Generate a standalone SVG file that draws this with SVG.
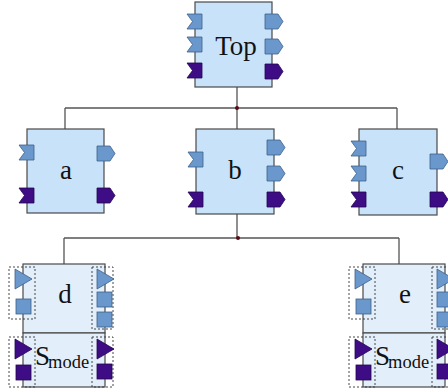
<svg xmlns="http://www.w3.org/2000/svg" xmlns:xlink="http://www.w3.org/1999/xlink" width="448" height="389" viewBox="0 0 448 389">
  <style>
    .box { fill: #c8e2fa; stroke: #4a4a4a; stroke-width: 1.2; }
    .sub { fill: #e2effb; stroke: #4a4a4a; stroke-width: 1.2; }
    .pb { fill: #6a98cc; stroke: #3d5f88; stroke-width: 0.8; }
    .pp { fill: #3e0c85; stroke: #22064f; stroke-width: 0.8; }
    .dash { fill: none; stroke: #333; stroke-width: 0.9; stroke-dasharray: 2 2; }
    .wire { fill: none; stroke: #555; stroke-width: 1.3; }
    .dot { fill: #5a0a14; }
    .lbl { font-family: "Liberation Serif", "Times New Roman", serif; font-size: 27px; fill: #111; }
    .lbl-s { font-family: "Liberation Serif", "Times New Roman", serif; font-size: 18.5px; fill: #111; }
  </style>
  <defs>
    <!-- notched input port -->
    <polygon id="in" points="0,0 15,0 15,15 0,15 5.5,7.5"/>
    <!-- arrow-shaped output port -->
    <polygon id="out" points="0,0 13,0 18,7.5 13,15 0,15"/>
    <!-- triangular data port -->
    <polygon id="tri" points="0,0 17,10 0,20"/>
    <rect id="sq" width="15" height="15"/>
  </defs>

  <g id="connectors">
    <path class="wire" d="M237,87 V108 M65,108 H397 M65,108 V129 M237,108 V129 M397,108 V129"/>
    <circle class="dot" cx="237" cy="108" r="2"/>
    <path class="wire" d="M237,214 V238 M64,238 H399 M64,238 V264 M399,238 V264"/>
    <circle class="dot" cx="238" cy="238" r="2"/>
  </g>

  <g id="top">
    <rect class="box" x="195" y="2" width="77" height="85"/>
    <use href="#in" class="pb" x="187" y="14"/>
    <use href="#in" class="pb" x="187" y="37"/>
    <use href="#in" class="pp" x="187" y="63"/>
    <use href="#out" class="pb" x="265" y="14"/>
    <use href="#out" class="pb" x="265" y="39"/>
    <use href="#out" class="pp" x="265" y="64"/>
    <text class="lbl" x="236" y="55" text-anchor="middle">Top</text>
  </g>

  <g id="a">
    <rect class="box" x="27" y="129" width="77" height="84"/>
    <use href="#in" class="pb" x="19" y="145"/>
    <use href="#in" class="pp" x="19" y="188"/>
    <use href="#out" class="pb" x="97" y="146"/>
    <use href="#out" class="pp" x="97" y="188"/>
    <text class="lbl" x="66" y="179" text-anchor="middle">a</text>
  </g>

  <g id="b">
    <rect class="box" x="196" y="129" width="78" height="85"/>
    <use href="#in" class="pb" x="188" y="152"/>
    <use href="#in" class="pp" x="188" y="192"/>
    <use href="#out" class="pb" x="267" y="140"/>
    <use href="#out" class="pb" x="267" y="166"/>
    <use href="#out" class="pp" x="267" y="192"/>
    <text class="lbl" x="235" y="179" text-anchor="middle">b</text>
  </g>

  <g id="c">
    <rect class="box" x="359" y="129" width="78" height="86"/>
    <use href="#in" class="pb" x="351" y="141"/>
    <use href="#in" class="pb" x="351" y="166"/>
    <use href="#in" class="pp" x="351" y="192"/>
    <use href="#out" class="pb" x="430" y="154"/>
    <use href="#out" class="pp" x="430" y="192"/>
    <text class="lbl" x="398" y="179" text-anchor="middle">c</text>
  </g>

  <g id="d">
    <rect class="sub" x="23" y="264" width="82" height="69"/>
    <rect class="sub" x="23" y="333" width="82" height="54"/>
    <rect class="dash" x="9" y="267" width="26" height="52"/>
    <rect class="dash" x="9" y="337" width="26" height="50"/>
    <rect class="dash" x="92" y="267" width="21" height="62"/>
    <rect class="dash" x="92" y="337" width="21" height="50"/>
    <use href="#tri" class="pb" x="15" y="269"/>
    <use href="#sq" class="pb" x="16" y="299"/>
    <use href="#tri" class="pp" x="15" y="339"/>
    <use href="#sq" class="pp" x="16" y="365"/>
    <use href="#tri" class="pb" x="97" y="269"/>
    <use href="#sq" class="pb" x="97" y="292"/>
    <use href="#sq" class="pb" x="97" y="312"/>
    <use href="#tri" class="pp" x="97" y="339"/>
    <use href="#sq" class="pp" x="97" y="364"/>
    <text class="lbl" x="65" y="303" text-anchor="middle">d</text>
    <text class="lbl" x="35" y="365">S<tspan class="lbl-s" dx="-2" dy="3">mode</tspan></text>
  </g>

  <g id="e">
    <rect class="sub" x="363" y="264" width="82" height="69"/>
    <rect class="sub" x="363" y="333" width="82" height="54"/>
    <rect class="dash" x="349" y="267" width="26" height="52"/>
    <rect class="dash" x="349" y="337" width="26" height="50"/>
    <rect class="dash" x="432" y="267" width="21" height="62"/>
    <rect class="dash" x="432" y="337" width="21" height="50"/>
    <use href="#tri" class="pb" x="355" y="269"/>
    <use href="#sq" class="pb" x="356" y="299"/>
    <use href="#tri" class="pp" x="355" y="339"/>
    <use href="#sq" class="pp" x="356" y="365"/>
    <use href="#tri" class="pb" x="437" y="269"/>
    <use href="#sq" class="pb" x="437" y="292"/>
    <use href="#sq" class="pb" x="437" y="312"/>
    <use href="#tri" class="pp" x="437" y="339"/>
    <use href="#sq" class="pp" x="437" y="364"/>
    <text class="lbl" x="405" y="303" text-anchor="middle">e</text>
    <text class="lbl" x="375" y="365">S<tspan class="lbl-s" dx="-2" dy="3">mode</tspan></text>
  </g>
</svg>
